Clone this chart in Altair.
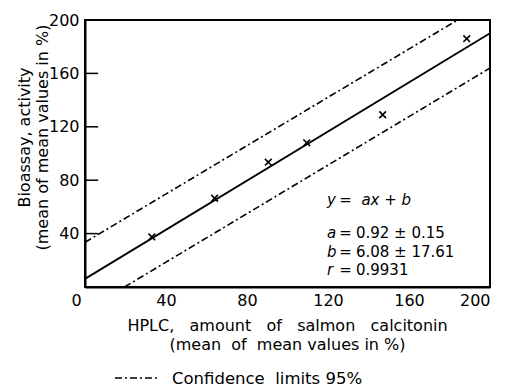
import altair as alt
import pandas as pd

# data
pts_x = [33, 64, 90.5, 109.5, 147, 188.5]
pts_y = [37.5, 66.5, 93.5, 108, 129, 186]

line_names = ["fit", "fit", "upper", "upper", "lower", "lower"]
line_x = [0, 200, 0, 184, 19.5, 200]
line_y = [6.08, 190.08, 33.5, 200, 0, 164]

ytick_vals = [40, 80, 120, 160]
xtick_vals = [0, 40, 80, 120, 160, 200]
ylabel_vals = [40, 80, 120, 160, 200]

FONT = "DejaVu Sans"
NB = "\u00a0"
G = NB * 3

pts = pd.DataFrame({"x": pts_x, "y": pts_y})
lines = pd.DataFrame({"name": line_names, "x": line_x, "y": line_y})
ticks = pd.DataFrame({"y": ytick_vals, "x0": [0] * 4, "x1": [6.5] * 4})

xs = alt.Scale(domain=[0, 200], nice=False)
ys = alt.Scale(domain=[0, 200], nice=False)

xtitle = ["HPLC," + G + "amount" + G + "of" + G + "salmon" + G + "calcitonin",
          "(mean" + NB + NB + "of" + NB + NB + "mean values in %)"]

xaxis = alt.Axis(values=xtick_vals, ticks=False, grid=False, domainColor="black", domainWidth=2,
                 labelFont=FONT, labelFontSize=16, labelColor="black", labelPadding=5,
                 labelOffset={"condition": {"test": "datum.value == 0", "value": -14}, "value": 0},
                 title=xtitle,
                 titleFont=FONT, titleFontSize=16, titleFontWeight="normal", titleColor="black",
                 titleY=30, titleBaseline="top", titleLineHeight=19, titleX=202)
yaxis = alt.Axis(values=ylabel_vals, ticks=False, grid=False, domainColor="black", domainWidth=2,
                 labelFont=FONT, labelFontSize=16, labelColor="black", labelPadding=6,
                 title=["Bioassay, activity", "(mean of mean values in %)"],
                 titleFont=FONT, titleFontSize=16, titleFontWeight="normal", titleColor="black",
                 titleAngle=-90, titleX=-69, titleY=117, titleBaseline="top", titleLineHeight=18,
                 titleAlign="center")

fit = alt.Chart(lines).transform_filter("datum.name == 'fit'").mark_line(
    color="black", strokeWidth=1.8).encode(
    x=alt.X("x:Q", scale=xs, axis=xaxis), y=alt.Y("y:Q", scale=ys, axis=yaxis))
upper = alt.Chart(lines).transform_filter("datum.name == 'upper'").mark_line(
    color="black", strokeWidth=1.6, strokeDash=[7, 3, 2, 3]).encode(
    x=alt.X("x:Q", scale=xs), y=alt.Y("y:Q", scale=ys))
lower = alt.Chart(lines).transform_filter("datum.name == 'lower'").mark_line(
    color="black", strokeWidth=1.6, strokeDash=[7, 3, 2, 3]).encode(
    x=alt.X("x:Q", scale=xs), y=alt.Y("y:Q", scale=ys))

marks = alt.Chart(pts).mark_point(shape="M-1,-1L1,1M-1,1L1,-1", size=45, color="black",
                                  strokeWidth=1.6, opacity=1).encode(
    x=alt.X("x:Q", scale=xs), y=alt.Y("y:Q", scale=ys))

yt = alt.Chart(ticks).mark_rule(color="black", strokeWidth=1.5).encode(
    x=alt.X("x0:Q", scale=xs), x2="x1:Q", y=alt.Y("y:Q", scale=ys))

# annotation block
ann_sym = ["y", "a", "b", "r"]
ann_eq_y = [65, 40.4, 26.2, 12.7]
ann_val = ["", "0.92 ± 0.15", "6.08 ± 17.61", "0.9931"]
ann = pd.DataFrame({"sym": ann_sym, "y": ann_eq_y, "val": ann_val})
ann_x_sym = 119.5
ann_x_eq = 125.5
ann_x_val = 133.8
ann_x_rhs = 136.5

sym = alt.Chart(ann).mark_text(font=FONT, fontSize=15, fontStyle="italic", align="left",
                               baseline="middle", color="black").encode(
    x=alt.datum(ann_x_sym, scale=xs), y=alt.Y("y:Q", scale=ys), text="sym:N")
eq = alt.Chart(ann).mark_text(font=FONT, fontSize=15, align="left", baseline="middle",
                              color="black", text="=").encode(
    x=alt.datum(ann_x_eq, scale=xs), y=alt.Y("y:Q", scale=ys))
val = alt.Chart(ann).mark_text(font=FONT, fontSize=15, align="left", baseline="middle",
                               color="black").encode(
    x=alt.datum(ann_x_val, scale=xs), y=alt.Y("y:Q", scale=ys), text="val:N")
rhs = alt.Chart(pd.DataFrame({"t": ["ax + b"], "y": [65]})).mark_text(
    font=FONT, fontSize=15, fontStyle="italic", align="left", baseline="middle",
    color="black").encode(x=alt.datum(ann_x_rhs, scale=xs), y=alt.Y("y:Q", scale=ys), text="t:N")

leg_line = alt.Chart(pd.DataFrame({"a": [0]})).mark_rule(
    color="black", strokeWidth=1.3, strokeDash=[7, 3, 2, 3]).encode(
    x=alt.value(30), x2=alt.value(73), y=alt.value(358))
leg_text = alt.Chart(pd.DataFrame({"t": ["Confidence" + NB + NB + "limits 95%"]})).mark_text(
    font=FONT, fontSize=16.5, align="left", baseline="middle", color="black").encode(
    x=alt.value(87), y=alt.value(359), text="t:N")

chart = alt.layer(fit, upper, lower, marks, yt, sym, eq, val, rhs, leg_line, leg_text).properties(
    width=405, height=267,
    autosize=alt.AutoSizeParams(type="none"),
    padding={"left": 85, "top": 20, "right": 15, "bottom": 101},
    background="white",
).configure_view(stroke="black", strokeWidth=2)

chart.save("out.html", embed_options={"renderer": "svg", "actions": False})
